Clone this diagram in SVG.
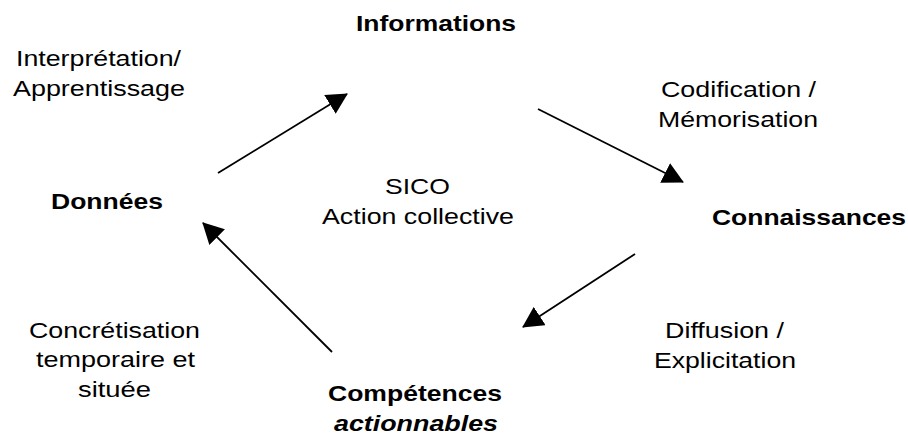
<svg xmlns="http://www.w3.org/2000/svg" width="908" height="436" viewBox="0 0 908 436">
<defs>
<style>
text{font-family:"Liberation Sans",Arial,sans-serif;font-size:22px;fill:#000}
.b{font-weight:bold}
.bi{font-weight:bold;font-style:italic}
.c line{stroke:#000;stroke-width:1.8;marker-end:url(#ah)}
</style>
<marker id="ah" viewBox="0 0 21 22" refX="20" refY="11" markerWidth="21" markerHeight="22" markerUnits="userSpaceOnUse" orient="auto">
<path d="M0,0 L21,11 L0,22 z" fill="#000"/>
</marker>
</defs>
<rect width="908" height="436" fill="#fff"/>
<g id="informations"><text class="b" x="356" y="31" textLength="160" lengthAdjust="spacingAndGlyphs">Informations</text></g>
<g id="connaissances"><text class="b" x="712" y="225" textLength="194" lengthAdjust="spacingAndGlyphs">Connaissances</text></g>
<g id="competences"><text class="b" x="328" y="401" textLength="174" lengthAdjust="spacingAndGlyphs">Compétences</text><text class="bi" x="334" y="431" textLength="164" lengthAdjust="spacingAndGlyphs">actionnables</text></g>
<g id="donnees"><text class="b" x="51" y="209" textLength="112" lengthAdjust="spacingAndGlyphs">Données</text></g>
<g id="centre"><text x="385" y="194" textLength="65" lengthAdjust="spacingAndGlyphs">SICO</text><text x="322" y="224" textLength="192" lengthAdjust="spacingAndGlyphs">Action collective</text></g>
<g id="labels">
<text x="16" y="66" textLength="165" lengthAdjust="spacingAndGlyphs">Interprétation/</text>
<text x="13" y="96" textLength="172" lengthAdjust="spacingAndGlyphs">Apprentissage</text>
<text x="661" y="97" textLength="155" lengthAdjust="spacingAndGlyphs">Codification /</text>
<text x="658" y="127" textLength="160" lengthAdjust="spacingAndGlyphs">Mémorisation</text>
<text x="665" y="338" textLength="119" lengthAdjust="spacingAndGlyphs">Diffusion /</text>
<text x="654" y="368" textLength="142" lengthAdjust="spacingAndGlyphs">Explicitation</text>
<text x="29" y="338" textLength="171" lengthAdjust="spacingAndGlyphs">Concrétisation</text>
<text x="36" y="367" textLength="159" lengthAdjust="spacingAndGlyphs">temporaire et</text>
<text x="78" y="397" textLength="73" lengthAdjust="spacingAndGlyphs">située</text>
</g>
<g id="connectors" class="c">
<line x1="218" y1="173" x2="347" y2="94"/>
<line x1="538" y1="109" x2="683" y2="182"/>
<line x1="635" y1="254" x2="523" y2="327"/>
<line x1="332" y1="352" x2="203" y2="223"/>
</g>
</svg>
